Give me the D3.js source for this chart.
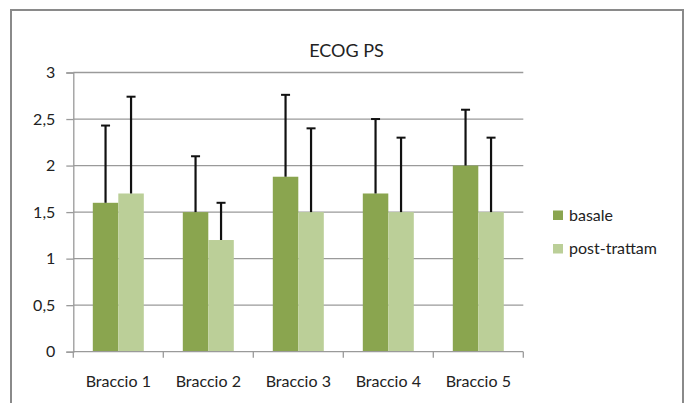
<!DOCTYPE html>
<html><head><meta charset="utf-8">
<script src="https://cdn.jsdelivr.net/npm/d3@7"></script>
<style>body{margin:0;background:#fff}svg{display:block}text{font-family:Lato,"Liberation Sans",sans-serif;fill:#222}</style>
</head><body><svg id="c" width="685" height="403"></svg>
<script>
const title = "ECOG PS";
const categories = ["Braccio 1","Braccio 2","Braccio 3","Braccio 4","Braccio 5"];
const seriesNames = ["basale","post-trattam"];
const basale = [1.6, 1.5, 1.88, 1.7, 2.0];
const post = [1.7, 1.2, 1.5, 1.5, 1.5];
const basaleErr = [0.83, 0.6, 0.88, 0.8, 0.6];
const postErr = [1.04, 0.4, 0.9, 0.8, 0.8];
const yTicks = [0, 0.5, 1, 1.5, 2, 2.5, 3];
const yTickLabels = ["0","0,5","1","1,5","2","2,5","3"];
const colors = ["#8AA54F", "#BBCF98"];

const svg = d3.select("#c");
svg.append("rect").attr("x",11).attr("y",10).attr("width",672).attr("height",410)
  .attr("fill","#fff").attr("stroke","#8a8a8a").attr("stroke-width",2);

const m = {l:73.3, r:523.3, t:72.5, b:351.7};
const x = d3.scaleBand().domain(categories).range([m.l, m.r]).paddingInner(0).paddingOuter(0);
const y = d3.scaleLinear().domain([0,3]).range([m.b, m.t]);
const xs = d3.scaleBand().domain(seriesNames).range([0, x.bandwidth()]).paddingInner(0).paddingOuter(0.215/0.57*0.5/0.5*0.5);

// gridlines
svg.append("g").selectAll("line").data(yTicks.filter(d=>d>0)).join("line")
  .attr("x1",m.l).attr("x2",m.r).attr("y1",d=>y(d)).attr("y2",d=>y(d))
  .attr("stroke","#9a9a9a").attr("stroke-width",1.3);

// y axis
const ya = d3.axisLeft(y).tickValues(yTicks).tickSize(7).tickPadding(11)
  .tickFormat((d,i)=>yTickLabels[i]);
const yg = svg.append("g").attr("transform",`translate(${m.l},0)`).call(ya);
yg.select(".domain").attr("stroke","#9a9a9a").attr("stroke-width",1.3);
yg.selectAll(".tick line").attr("stroke","#9a9a9a").attr("stroke-width",1.3);
yg.selectAll(".tick text").attr("font-size",16).attr("font-family","Lato,'Liberation Sans',sans-serif").attr("fill","#222");

// bars
const data = categories.map((c,i)=>({c, vals:[{s:seriesNames[0],v:basale[i],e:basaleErr[i]},{s:seriesNames[1],v:post[i],e:postErr[i]}]}));
const bw = 25.5;
const g = svg.append("g").selectAll("g").data(data).join("g")
  .attr("transform",d=>`translate(${x(d.c)+x.bandwidth()/2},0)`);
g.selectAll("rect").data(d=>d.vals).join("rect")
  .attr("x",(d,i)=> i===0 ? -bw : 0).attr("width",bw)
  .attr("y",d=>y(d.v)).attr("height",d=>y(0)-y(d.v))
  .attr("fill",(d,i)=>colors[i]);
// error bars
g.selectAll("line.err").data(d=>d.vals).join("line").attr("class","err")
  .attr("x1",(d,i)=> i===0 ? -bw/2 : bw/2).attr("x2",(d,i)=> i===0 ? -bw/2 : bw/2)
  .attr("y1",d=>y(d.v)).attr("y2",d=>y(d.v+d.e)).attr("stroke","#111").attr("stroke-width",2.2);
g.selectAll("line.cap").data(d=>d.vals).join("line").attr("class","cap")
  .attr("x1",(d,i)=> (i===0 ? -bw/2 : bw/2)-4.5).attr("x2",(d,i)=> (i===0 ? -bw/2 : bw/2)+4.5)
  .attr("y1",d=>y(d.v+d.e)).attr("y2",d=>y(d.v+d.e)).attr("stroke","#111").attr("stroke-width",2);

// x axis
svg.append("line").attr("x1",m.l).attr("x2",m.r).attr("y1",m.b).attr("y2",m.b).attr("stroke","#9a9a9a").attr("stroke-width",1.3);
const bounds = categories.map(c=>x(c)).concat([m.r]);
svg.append("g").selectAll("line").data(bounds).join("line")
  .attr("x1",d=>d).attr("x2",d=>d).attr("y1",m.b).attr("y2",m.b+6).attr("stroke","#9a9a9a").attr("stroke-width",1.3);
svg.append("g").selectAll("text").data(categories).join("text")
  .attr("x",d=>x(d)+x.bandwidth()/2).attr("y",387).attr("text-anchor","middle").attr("font-size",16).text(d=>d);

// title
svg.append("text").attr("x",346.5).attr("y",57).attr("text-anchor","middle").attr("font-size",18).text(title);

// legend
const lg = svg.append("g").selectAll("g").data(seriesNames).join("g")
  .attr("transform",(d,i)=>`translate(553,${210.5+i*33.5})`);
lg.append("rect").attr("width",10).attr("height",9.5).attr("fill",(d,i)=>colors[i]);
lg.append("text").attr("x",16).attr("y",10).attr("font-size",16).text(d=>d);
</script></body></html>
